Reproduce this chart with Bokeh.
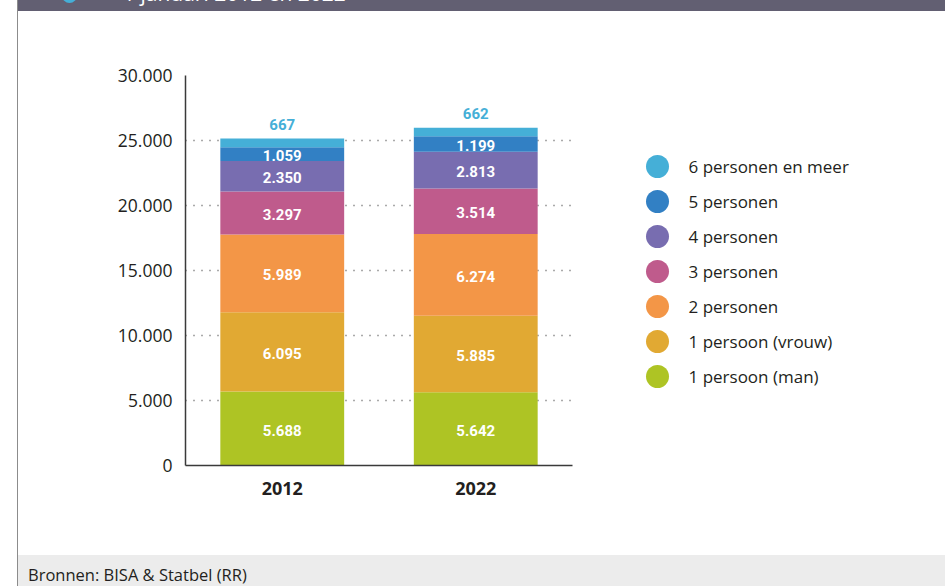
from bokeh.plotting import figure
from bokeh.models import ColumnDataSource, FixedTicker, Range1d, Div, FactorRange
from bokeh.layouts import row, column
from bokeh.core.properties import value
from bokeh.embed import file_html
from bokeh.resources import INLINE

# ---------------- data ----------------
years = ["2012", "2022"]
categories = ["1 persoon (man)", "1 persoon (vrouw)", "2 personen", "3 personen",
              "4 personen", "5 personen", "6 personen en meer"]
values_2012 = [5688, 6095, 5989, 3297, 2350, 1059, 667]
values_2022 = [5642, 5885, 6274, 3514, 2813, 1199, 662]
colors = ["#aec424", "#e1a933", "#f39647", "#bf5b8c", "#786db0", "#3280c4", "#45afd7"]
y_ticks = [0, 5000, 10000, 15000, 20000, 25000, 30000]
title_text = "1 januari 2012 en 2022"
source_note = "Bronnen: BISA & Statbel (RR)"


def fmt(v):
    return f"{v:,}".replace(",", ".")


TXT = "#231f20"

# ---------------- main chart ----------------
keys = [f"c{i}" for i in range(len(categories))]
data = {"year": years}
for i, k in enumerate(keys):
    data[k] = [values_2012[i], values_2022[i]]
src = ColumnDataSource(data)

W, H = 582, 544
BT, BB = 64, 90
p = figure(x_range=FactorRange(*years), y_range=Range1d(0, 30000),
           width=W, height=H, output_backend="svg", toolbar_location=None,
           min_border_left=167, min_border_right=28, min_border_top=BT, min_border_bottom=BB)
p.outline_line_color = None
p.background_fill_color = "white"
p.border_fill_color = "white"

p.vbar_stack(keys, x="year", width=0.64, color=colors, line_color=None, source=src)

# segment labels
in_x, in_y, in_t = [], [], []
top_x, top_y, top_t = [], [], []
for yr, vals in zip(years, [values_2012, values_2022]):
    base = 0
    for i, v in enumerate(vals):
        if i == len(vals) - 1:
            top_x.append(yr)
            top_y.append(base + v)
            top_t.append(fmt(v))
        else:
            in_x.append(yr)
            in_y.append(base + v / 2)
            in_t.append(fmt(v))
        base += v

p.text(x=in_x, y=in_y, text=in_t, text_color="white", text_align="center",
       text_baseline="middle", y_offset=1.5, text_font=value("Roboto"), text_font_style="bold",
       text_font_size="15px")
p.text(x=top_x, y=top_y, text=top_t, text_color="#45afd7", text_align="center",
       text_baseline="bottom", y_offset=-9, text_font=value("Roboto"),
       text_font_style="bold", text_font_size="15px")

p.yaxis.ticker = FixedTicker(ticks=y_ticks)
p.yaxis.major_label_overrides = {t: fmt(t) for t in y_ticks}
for ax in (p.xaxis, p.yaxis):
    ax.axis_line_color = "#3a3a3a"
    ax.axis_line_width = 1.5
    ax.major_tick_line_color = None
    ax.minor_tick_line_color = None
    ax.major_tick_in = 0
    ax.major_tick_out = 0
    ax.major_label_text_color = TXT
    ax.major_label_text_font = "Open Sans"
p.yaxis.major_label_text_font_size = "17.5px"
p.yaxis.major_label_standoff = 13
p.xaxis.major_label_standoff = 16
p.xaxis.major_label_text_font_size = "18px"
p.xaxis.major_label_text_font_style = "bold"

p.xgrid.visible = False
p.ygrid.grid_line_color = "#555555"
p.ygrid.grid_line_dash = "1 7"
p.ygrid.grid_line_width = 1.5

# ---------------- legend ----------------
LW = 345
spacing = 35
first = 155          # pixel row of first legend item inside the figure
frame_h = H - BT - BB
lf = figure(width=LW, height=H, x_range=Range1d(0, LW),
            y_range=Range1d((BT + frame_h - first) / spacing, -(first - BT) / spacing),
            x_axis_location=None, y_axis_location=None,
            output_backend="svg", toolbar_location=None,
            min_border_left=0, min_border_right=0,
            min_border_top=BT, min_border_bottom=BB)
lf.outline_line_color = None
lf.grid.visible = False
n = len(categories)
rows_idx = [n - 1 - i for i in range(n)]
lf.scatter(x=[57] * n, y=rows_idx, size=23, marker="circle", color=colors, line_color=None)
lf.text(x=[88] * n, y=rows_idx, text=categories, text_color=TXT, text_align="left",
        text_baseline="middle", text_font=value("Open Sans"), text_font_size="17px")

# ---------------- frame decorations ----------------
CW = 927
header = Div(
    text=('<div style="position:absolute;left:44px;top:-12px;width:15px;height:15px;'
          'border-radius:50%;background:#45afd7"></div>'
          '<div style="position:absolute;left:105px;top:-22px;font-family:\'Open Sans\';'
          f'font-size:21px;color:white;white-space:nowrap">{title_text}</div>'),
    width=CW, height=11, margin=0,
    styles={"background-color": "#625f72", "overflow": "hidden", "position": "relative"})
footer = Div(text=(f'<div style="padding-left:10px;padding-top:10px;font-family:\'Open Sans\';'
                   f'font-size:16.5px;line-height:20px;color:{TXT};white-space:nowrap">'
                   f'{source_note.replace("&", "&amp;")}</div>'),
             width=CW, height=31, margin=0, styles={"background-color": "#ececec"})
spacer = Div(width=17, height=586, margin=0)
border = Div(width=1, height=586, margin=0, styles={"background-color": "#8c8c8c"})

root = row(spacer, border, column(header, row(p, lf, spacing=0), footer, spacing=0), spacing=0)

open("out.html", "w").write(file_html(root, INLINE))
